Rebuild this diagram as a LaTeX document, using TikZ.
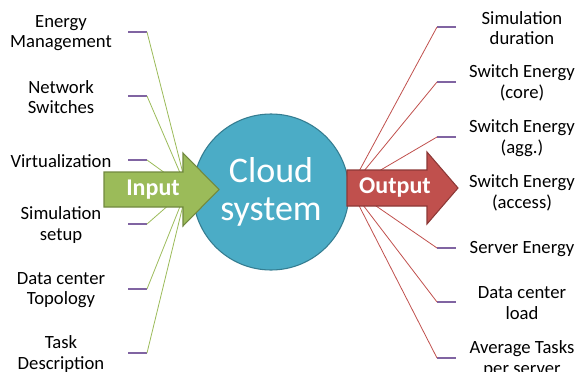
\documentclass[tikz,border=0pt]{standalone}
\usepackage{fontspec}
\setmainfont{Carlito}
\usepackage{tikz}
\usetikzlibrary{positioning}

\definecolor{cloudblue}{HTML}{4BACC6}
\definecolor{cloudedge}{HTML}{357D91}
\definecolor{ingreen}{HTML}{9BBB59}
\definecolor{inedge}{HTML}{71893F}
\definecolor{outred}{HTML}{C0504D}
\definecolor{outedge}{HTML}{8C3836}
\definecolor{tickpurple}{HTML}{8064A2}

\tikzset{
    lbl/.style={align=center, font=\fontsize{14}{15.5}\selectfont, inner sep=0pt},
    tickline/.style={draw=tickpurple, line width=1.4pt},
    inlink/.style={draw=ingreen, line width=0.6pt},
    outlink/.style={draw=outred, line width=0.6pt},
    bigarrow/.style={line width=0.8pt, line join=miter},
    arrowtext/.style={text=white, font=\fontsize{18}{20}\selectfont\bfseries}
}

\begin{document}
\begin{tikzpicture}[x=0.75pt, y=-0.75pt] % 1 unit = 1 px of the reference
    \useasboundingbox (0,0) rectangle (576,372);
    % hubs where the thin lines meet (behind the arrows)
    \coordinate (inhub) at (187,189);
    \coordinate (outhub) at (350,188);

    % inputs on the left
    \foreach \name/\txt/\y in {
        energy/{Energy\\Management}/33,
        network/{Network\\Switches}/97,
        virt/{Virtualization}/161,
        setup/{Simulation\\setup}/225,
        topo/{Data center\\Topology}/290,
        task/{Task\\Description}/354
    } {
        \node[lbl] (in-\name) at (61,\y) {\txt};
        \coordinate (ti-\name) at (147,\y-1);
        \draw[tickline] (128,\y-1) -- (ti-\name);
        \draw[inlink] (ti-\name) -- (inhub);
    }

    % outputs on the right
    \foreach \name/\txt/\y in {
        duration/{Simulation\\duration}/28,
        core/{Switch Energy\\(core)}/83,
        agg/{Switch Energy\\(agg.)}/138,
        server/{Server Energy}/249,
        load/{Data center\\load}/303,
        tasks/{Average Tasks\\per server}/359
    } {
        \node[lbl] (out-\name) at (522,\y) {\txt};
        \coordinate (to-\name) at (437,\y-1);
        \draw[tickline] (to-\name) -- (456,\y-1);
        \draw[outlink] (to-\name) -- (outhub);
    }
    \node[lbl] (out-access) at (522,193) {Switch Energy\\(access)};

    % the cloud (sizes in pt: 156 px = 117 pt)
    \node[circle, fill=cloudblue, draw=cloudedge, line width=0.8pt,
          minimum size=117pt, inner sep=0pt, text=white, align=center,
          font=\fontsize{27}{29}\selectfont] (cloud) at (271,192) {Cloud\\system};

    % the two block arrows
    \draw[bigarrow, fill=ingreen, draw=inedge]
        (104,172) -- (183,172) -- (183,153) -- (219,189.5)
        -- (183,226) -- (183,207) -- (104,207) -- cycle;
    \node[arrowtext] (input) at (153,190) {Input};
    \draw[bigarrow, fill=outred, draw=outedge]
        (347,170) -- (427,170) -- (427,152) -- (458,188)
        -- (427,224) -- (427,206) -- (347,206) -- cycle;
    \node[arrowtext] (output) at (395,188) {Output};
\end{tikzpicture}
\end{document}
